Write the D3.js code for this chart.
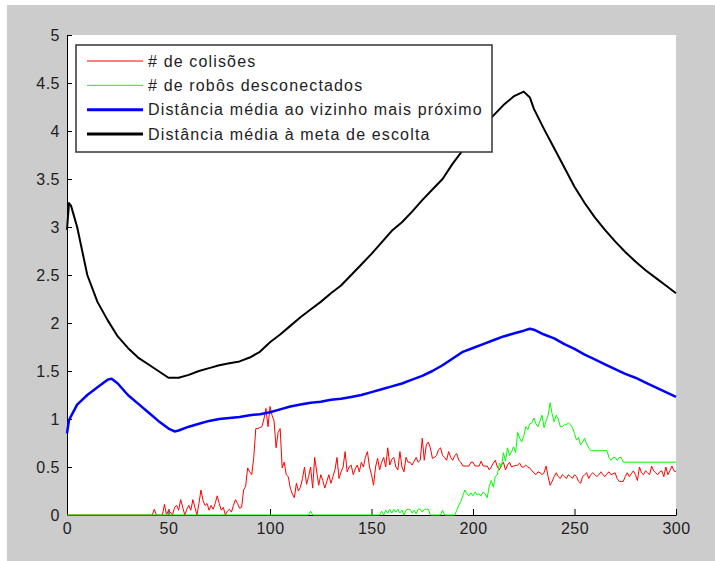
<!DOCTYPE html>
<html>
<head>
<meta charset="utf-8">
<script src="https://cdn.jsdelivr.net/npm/d3@7"></script>
<style>
    body { margin: 0; background: #fff; }
    svg { display: block; }
    text { font-family: "Liberation Sans", Arial, sans-serif; fill: #222; }
</style>
</head>
<body>
<div id="chart"></div>
<script>
// series, [step, value]
const colisoes = [[0,0],[42,0],[43,0.06],[44,0],[47,0],[48,0.11],[49,0],[50,0.05],[52,0],[53,0.08],[54,0.1],[55,0.05],[56,0.16],[57,0.08],[58,0],[59,0.06],[60,0.1],[61,0.05],[62,0.16],[63,0.08],[64,0],[65,0.12],[66,0.26],[67,0.15],[68,0.1],[69,0.12],[70,0.05],[71,0.1],[72,0.06],[73,0.12],[74,0.2],[75,0.12],[76,0.05],[77,0.08],[78,0],[79,0.04],[80,0.06],[81,0.03],[82,0.1],[83,0.16],[84,0.12],[85,0.07],[86,0.08],[87,0.26],[88,0.3],[89,0.49],[90,0.45],[91,0.42],[92,0.6],[93,0.9],[94,0.9],[95,0.91],[96,0.92],[97,1.0],[98,1.11],[99,0.92],[100,1.13],[101,1.04],[102,0.98],[103,0.7],[104,0.86],[105,0.9],[106,0.49],[107,0.55],[108,0.42],[109,0.4],[110,0.28],[111,0.22],[112,0.18],[113,0.33],[114,0.25],[115,0.29],[116,0.38],[117,0.5],[118,0.32],[119,0.4],[120,0.5],[121,0.28],[122,0.6],[123,0.45],[124,0.31],[125,0.42],[126,0.36],[127,0.28],[128,0.35],[129,0.42],[130,0.33],[131,0.4],[132,0.47],[133,0.6],[134,0.38],[135,0.45],[136,0.5],[137,0.66],[138,0.45],[139,0.5],[140,0.52],[141,0.42],[142,0.48],[143,0.52],[144,0.45],[145,0.55],[146,0.5],[147,0.6],[148,0.66],[149,0.5],[150,0.42],[151,0.31],[152,0.5],[153,0.59],[154,0.47],[155,0.55],[156,0.6],[157,0.5],[158,0.7],[159,0.52],[160,0.58],[161,0.6],[162,0.5],[163,0.47],[164,0.66],[165,0.5],[166,0.45],[167,0.6],[168,0.55],[169,0.55],[170,0.52],[171,0.56],[172,0.6],[173,0.55],[174,0.57],[175,0.8],[176,0.57],[177,0.73],[178,0.76],[179,0.7],[180,0.59],[181,0.6],[182,0.62],[183,0.68],[184,0.7],[185,0.62],[186,0.6],[187,0.57],[188,0.66],[189,0.6],[190,0.57],[191,0.62],[192,0.64],[193,0.57],[194,0.55],[195,0.51],[198,0.51],[199,0.55],[200,0.55],[201,0.51],[203,0.51],[204,0.56],[205,0.51],[207,0.51],[208,0.47],[209,0.5],[210,0.54],[211,0.57],[212,0.5],[213,0.47],[214,0.52],[215,0.55],[216,0.47],[217,0.52],[218,0.55],[219,0.5],[220,0.51],[222,0.52],[223,0.54],[224,0.5],[225,0.5],[226,0.52],[227,0.5],[228,0.49],[229,0.46],[230,0.44],[231,0.42],[232,0.45],[233,0.44],[234,0.42],[235,0.44],[236,0.51],[237,0.4],[238,0.31],[239,0.35],[240,0.4],[241,0.44],[242,0.4],[243,0.38],[244,0.42],[245,0.4],[246,0.38],[247,0.42],[248,0.4],[249,0.38],[250,0.42],[251,0.4],[252,0.35],[253,0.33],[254,0.4],[255,0.42],[256,0.44],[257,0.38],[258,0.42],[259,0.44],[260,0.42],[261,0.4],[262,0.42],[263,0.45],[264,0.42],[265,0.4],[266,0.43],[267,0.45],[268,0.42],[269,0.43],[270,0.44],[271,0.38],[272,0.35],[273,0.35],[274,0.35],[275,0.4],[276,0.44],[277,0.4],[278,0.43],[279,0.46],[280,0.42],[281,0.36],[282,0.5],[283,0.44],[284,0.42],[285,0.46],[286,0.44],[287,0.42],[288,0.51],[289,0.46],[290,0.44],[291,0.42],[292,0.45],[293,0.46],[294,0.4],[295,0.5],[296,0.42],[297,0.46],[298,0.51],[299,0.46],[300,0.45]]

const desconectados = [[0,0],[119,0],[120,0.04],[121,0],[154,0],[155,0.04],[156,0],[157,0.05],[158,0.02],[159,0.06],[160,0.02],[161,0.06],[162,0.03],[163,0.06],[164,0.02],[165,0.05],[166,0],[167,0.05],[168,0.06],[169,0.06],[170,0.02],[171,0.05],[172,0.01],[173,0.06],[174,0.06],[175,0.03],[176,0.06],[177,0.06],[178,0.06],[179,0],[184,0],[185,0.05],[186,0],[191,0],[192,0.05],[193,0.1],[194,0.14],[195,0.2],[196,0.26],[197,0.22],[198,0.2],[199,0.23],[200,0.2],[201,0.24],[202,0.21],[203,0.22],[204,0.2],[205,0.24],[206,0.22],[207,0.18],[208,0.3],[209,0.36],[210,0.29],[211,0.4],[212,0.42],[213,0.54],[214,0.5],[215,0.65],[216,0.56],[217,0.7],[218,0.62],[219,0.66],[220,0.71],[221,0.65],[222,0.86],[223,0.8],[224,0.76],[225,0.82],[226,0.92],[227,0.89],[228,0.95],[229,0.96],[230,1.01],[231,0.95],[232,0.92],[233,0.98],[234,1.04],[235,0.91],[236,0.98],[237,1.04],[238,1.17],[239,1.05],[240,0.97],[241,1.04],[242,1.0],[243,0.92],[244,0.92],[245,0.94],[246,0.94],[247,0.96],[248,0.94],[249,0.91],[250,0.85],[251,0.78],[252,0.81],[253,0.73],[254,0.76],[255,0.8],[256,0.74],[257,0.7],[258,0.67],[266,0.67],[267,0.6],[268,0.57],[269,0.6],[270,0.6],[271,0.57],[272,0.6],[273,0.6],[274,0.55],[300,0.55]]

const vizinho = [[0,0.85],[1,0.99],[2,1.03],[5,1.15],[10,1.25],[15,1.33],[20,1.41],[22,1.42],[25,1.37],[30,1.25],[35,1.16],[40,1.07],[45,0.98],[50,0.9],[53,0.87],[55,0.88],[60,0.92],[65,0.95],[70,0.98],[75,1.0],[80,1.01],[85,1.02],[90,1.04],[95,1.05],[100,1.07],[105,1.1],[110,1.13],[115,1.15],[120,1.17],[125,1.18],[130,1.2],[135,1.21],[140,1.23],[145,1.25],[150,1.28],[155,1.31],[160,1.34],[165,1.37],[170,1.41],[175,1.45],[180,1.5],[185,1.56],[190,1.63],[195,1.7],[200,1.74],[205,1.78],[210,1.82],[215,1.86],[220,1.89],[225,1.92],[228,1.94],[230,1.93],[235,1.88],[240,1.84],[245,1.78],[250,1.73],[255,1.67],[260,1.62],[265,1.57],[270,1.52],[275,1.47],[280,1.43],[285,1.38],[290,1.33],[295,1.28],[300,1.23]]

const meta = [[0,2.97],[1,3.25],[2,3.22],[5,3.0],[10,2.5],[15,2.22],[20,2.03],[25,1.86],[30,1.74],[35,1.64],[40,1.57],[45,1.5],[50,1.43],[55,1.43],[60,1.46],[65,1.5],[70,1.53],[75,1.56],[80,1.58],[85,1.6],[90,1.64],[95,1.7],[100,1.8],[105,1.88],[110,1.97],[115,2.06],[120,2.14],[125,2.22],[130,2.31],[135,2.39],[140,2.5],[145,2.61],[150,2.72],[155,2.84],[160,2.96],[165,3.05],[170,3.16],[175,3.28],[180,3.39],[185,3.5],[190,3.66],[195,3.8],[200,3.92],[205,4.05],[210,4.16],[215,4.27],[220,4.36],[225,4.41],[228,4.35],[230,4.23],[235,4.02],[240,3.82],[245,3.62],[250,3.42],[255,3.25],[260,3.1],[265,2.97],[270,2.85],[275,2.74],[280,2.64],[285,2.55],[290,2.47],[295,2.39],[300,2.31]]

const legendLabels = ["# de colisões", "# de robôs desconectados", "Distância média ao vizinho mais próximo", "Distância média à meta de escolta"]
const xTicks = [0, 50, 100, 150, 200, 250, 300]
const yTicks = [0, 0.5, 1, 1.5, 2, 2.5, 3, 3.5, 4, 4.5, 5]

const series = [
    { data: colisoes, color: "#ff0000", width: 1 },
    { data: desconectados, color: "#00ff00", width: 1 },
    { data: vizinho, color: "#0000ff", width: 2.5 },
    { data: meta, color: "#000000", width: 2 }
]

const W = 715, H = 561
const plot = { left: 67, right: 676, top: 35, bottom: 515 }

const svg = d3.select("#chart").append("svg")
    .attr("width", W)
    .attr("height", H)

// grey figure background
svg.append("rect")
    .attr("x", 7).attr("y", 5)
    .attr("width", W - 7).attr("height", H - 5)
    .attr("fill", "#cccccc")

svg.append("rect")
    .attr("x", plot.left).attr("y", plot.top)
    .attr("width", plot.right - plot.left).attr("height", plot.bottom - plot.top)
    .attr("fill", "#fff")

const x = d3.scaleLinear().domain([0, 300]).range([plot.left, plot.right])
const y = d3.scaleLinear().domain([0, 5]).range([plot.bottom, plot.top])

svg.append("g")
    .attr("transform", "translate(0," + plot.bottom + ")")
    .call(d3.axisBottom(x).tickValues(xTicks).tickFormat(d3.format("d"))
        .tickSizeInner(-6).tickSizeOuter(0).tickPadding(8))

svg.append("g")
    .attr("transform", "translate(" + plot.left + ",0)")
    .call(d3.axisLeft(y).tickValues(yTicks).tickFormat(function (d) { return String(d) })
        .tickSizeInner(-5).tickSizeOuter(0).tickPadding(7))

svg.selectAll(".tick text").style("font-size", "16px").style("letter-spacing", "0.5px").attr("fill", "#222")
svg.selectAll(".domain, .tick line").attr("stroke", "#000")

const line = d3.line()
    .x(function (d) { return x(d[0]) })
    .y(function (d) { return y(d[1]) })

series.forEach(function (s) {
    svg.append("path")
        .datum(s.data)
        .attr("fill", "none")
        .attr("stroke", s.color)
        .attr("stroke-width", s.width)
        .attr("stroke-linejoin", "round")
        .attr("d", line)
})

// legend
const legend = svg.append("g")
legend.append("rect")
    .attr("x", 76).attr("y", 45)
    .attr("width", 416).attr("height", 107)
    .attr("fill", "#fff")
    .attr("stroke", "#333")
    .attr("stroke-width", 1.5)

const rowY = d3.scaleLinear().domain([0, 3]).range([61, 134])

series.forEach(function (s, i) {
    legend.append("line")
        .attr("x1", 87).attr("x2", 143)
        .attr("y1", rowY(i)).attr("y2", rowY(i))
        .attr("stroke", s.color)
        .attr("stroke-width", s.width === 1 ? 1 : 3)
    legend.append("text")
        .attr("x", 148)
        .attr("y", rowY(i))
        .attr("dy", "0.35em")
        .style("font-size", "16px")
        .style("letter-spacing", "1.15px")
        .text(legendLabels[i])
})
</script>
</body>
</html>
